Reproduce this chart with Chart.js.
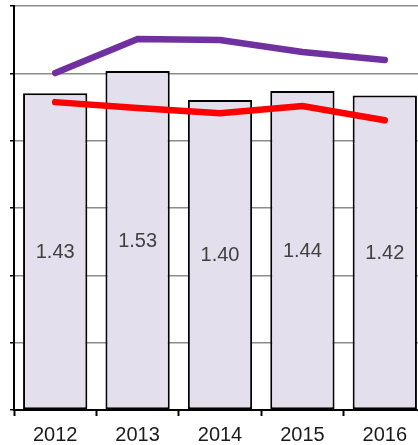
<!DOCTYPE html>
<html>
<head>
<meta charset="utf-8">
<script src="https://cdn.jsdelivr.net/npm/chart.js@4"></script>
<style>
  html, body { margin: 0; padding: 0; background: #fff; overflow: hidden; }
  canvas { display: block; }
</style>
</head>
<body>
<canvas id="chart" width="428" height="455"></canvas>
<script>
const years = ['2012', '2013', '2014', '2015', '2016'];
const barValues = [1.43, 1.53, 1.40, 1.44, 1.42];
const purpleValues = [1.521, 1.675, 1.670, 1.616, 1.580];
const redValues = [1.390, 1.363, 1.340, 1.372, 1.308];

// writes the value in the middle of each bar
const barLabels = {
  id: 'barLabels',
  afterDatasetsDraw(chart) {
    const ctx = chart.ctx;
    const meta = chart.getDatasetMeta(2);
    ctx.save();
    ctx.font = '20px "Liberation Sans", Arial, sans-serif';
    ctx.fillStyle = '#404040';
    ctx.textAlign = 'center';
    ctx.textBaseline = 'middle';
    meta.data.forEach((bar, i) => {
      const mid = (bar.y + bar.base) / 2;
      ctx.fillText(barValues[i].toFixed(2), bar.x, mid + 1);
    });
    ctx.restore();
  }
};

const ctx = document.getElementById('chart').getContext('2d');
new Chart(ctx, {
  type: 'bar',
  data: {
    labels: years,
    datasets: [
      {
        type: 'line',
        data: purpleValues,
        borderColor: '#7030A0',
        borderWidth: 6.5,
        borderCapStyle: 'round',
        pointRadius: 0,
        tension: 0,
        order: 1
      },
      {
        type: 'line',
        data: redValues,
        borderColor: '#FF0000',
        borderWidth: 6.5,
        borderCapStyle: 'round',
        pointRadius: 0,
        tension: 0,
        order: 1
      },
      {
        data: barValues,
        backgroundColor: '#E4DFEC',
        borderColor: '#000',
        borderWidth: 2,
        borderSkipped: false,
        categoryPercentage: 0.78,
        barPercentage: 1,
        order: 2
      }
    ]
  },
  options: {
    responsive: false,
    animation: false,
    layout: { padding: { left: 10, top: 6, right: 2, bottom: 1 } },
    plugins: {
      legend: { display: false },
      tooltip: { enabled: false }
    },
    scales: {
      x: {
        grid: {
          drawOnChartArea: false,
          drawTicks: true,
          tickLength: 6,
          tickColor: '#000',
          tickWidth: 2
        },
        border: { color: '#000', width: 2 },
        ticks: {
          color: '#1a1a1a',
          padding: 7,
          font: { family: '"Liberation Sans", Arial, sans-serif', size: 20 }
        }
      },
      y: {
        min: 0,
        max: 1.824,
        grid: {
          color: '#8c8c8c',
          lineWidth: 1.5,
          tickLength: 4,
          tickColor: '#000',
          tickWidth: 1.5
        },
        border: { color: '#000', width: 2 },
        ticks: { display: false, stepSize: 0.304 }
      }
    }
  },
  plugins: [barLabels]
});
</script>
</body>
</html>
